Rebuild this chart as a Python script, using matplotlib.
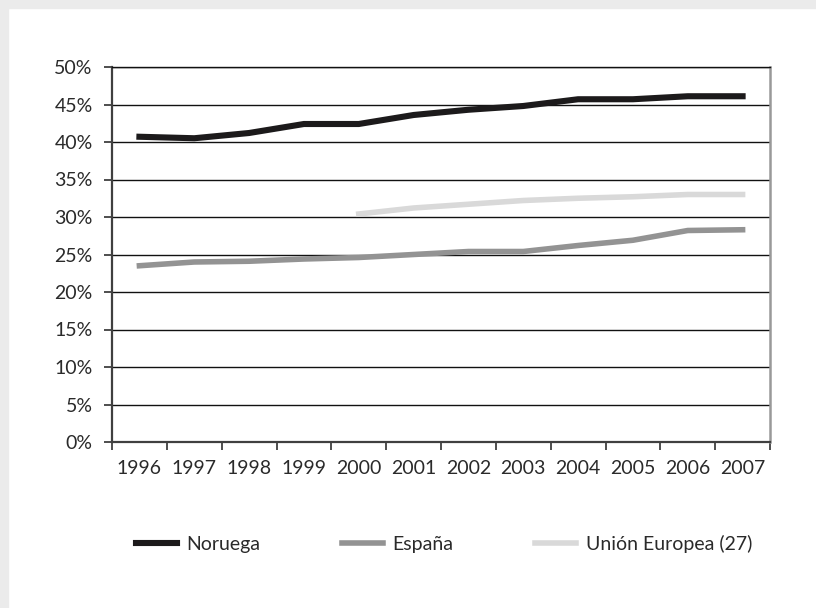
import matplotlib
matplotlib.use("Agg")
import matplotlib.pyplot as plt
from matplotlib.patches import Rectangle
import numpy as np

years = ["1996", "1997", "1998", "1999", "2000", "2001", "2002", "2003", "2004", "2005", "2006", "2007"]
noruega = [40.7, 40.5, 41.2, 42.4, 42.4, 43.6, 44.3, 44.8, 45.7, 45.7, 46.1, 46.1]
espana = [23.5, 24.0, 24.1, 24.4, 24.6, 25.0, 25.4, 25.4, 26.2, 26.9, 28.2, 28.3]
ue_years = ["2000", "2001", "2002", "2003", "2004", "2005", "2006", "2007"]
ue = [30.4, 31.2, 31.7, 32.2, 32.5, 32.7, 33.0, 33.0]
yticks = [0, 5, 10, 15, 20, 25, 30, 35, 40, 45, 50]

plt.rcParams['font.family'] = ['Lato', 'DejaVu Sans']

fig = plt.figure(figsize=(8.16, 6.08), dpi=100)
fig.patch.set_facecolor('white')
fig.patches.append(Rectangle((0, 0), 8/816, 1, transform=fig.transFigure, color='#ebebeb', zorder=-10))
fig.patches.append(Rectangle((0, 1 - 8/608), 1, 8/608, transform=fig.transFigure, color='#ebebeb', zorder=-10))

ax = fig.add_axes([112/816, 1 - 442/608, 658/816, 375/608])

x = np.arange(len(years))
ue_x = [years.index(y) for y in ue_years]

ax.plot(x, noruega, color='#1c1a1b', lw=4.4, solid_capstyle='projecting', solid_joinstyle='miter', label='Noruega', zorder=3)
ax.plot(x, espana, color='#939393', lw=4.0, solid_capstyle='projecting', solid_joinstyle='miter', label='España', zorder=3)
ax.plot(ue_x, ue, color='#d9d9d9', lw=4.0, solid_capstyle='projecting', solid_joinstyle='miter', label='Unión Europea (27)', zorder=3)

ax.set_xlim(-0.5, len(years) - 0.5)
ax.set_ylim(0, 50)
ax.set_yticks(yticks)
ax.set_yticklabels([f"{v}%" for v in yticks])
ax.set_xticks(x)
ax.set_xticklabels(years)
ax.set_xticks(np.arange(-0.5, len(years), 1.0), minor=True)

ax.yaxis.grid(True, color='#111111', lw=1.0, zorder=1)
ax.set_axisbelow(True)

fs = 14
ax.tick_params(axis='x', which='major', length=0, pad=13, labelsize=fs, colors='#2a2a2a')
ax.tick_params(axis='x', which='minor', length=6, width=1.3, color='#404040', direction='out')
ax.tick_params(axis='y', which='major', length=6, width=1.3, color='#404040', pad=8, labelsize=fs, labelcolor='#2a2a2a')

for side in ['left', 'bottom']:
    ax.spines[side].set_color('#404040')
    ax.spines[side].set_linewidth(1.6)
ax.spines['right'].set_color('#999999')
ax.spines['right'].set_linewidth(1.8)
ax.spines['top'].set_color('#111111')
ax.spines['top'].set_linewidth(1.0)

leg = fig.legend(loc='center', bbox_to_anchor=(444/816, 1 - 544/608), ncol=3, frameon=False,
                 fontsize=fs, handlelength=2.1, columnspacing=4.2, handletextpad=0.5)
for t in leg.get_texts():
    t.set_color('#2a2a2a')

fig.savefig('out.png', dpi=100)
